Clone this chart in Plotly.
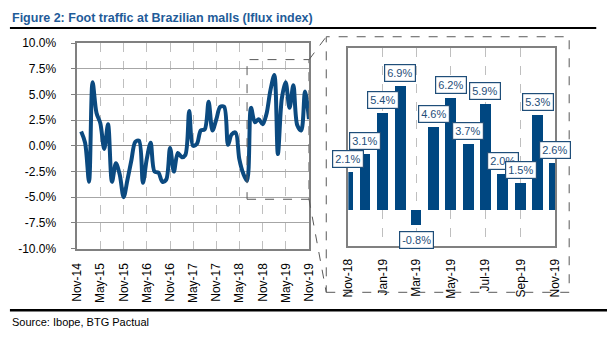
import pandas as pd
import plotly.graph_objects as go

# ---------------- data ----------------
months = pd.date_range("2014-12-01", "2019-11-01", freq="MS")
traffic = [
    1.4, 0.3, -3.5, 6.2, 3.2, 2.2, -0.3, 2.1, -3.5, -1.7, -2.8,      # Dec-14..Oct-15
    -5.0, -3.3, -1.4, 0.4, 0.5, -3.6, -1.3, 0.3, -2.5, -2.6, -3.5, -3.3,  # Nov-15..Oct-16
    -0.2, -2.5, -0.7, -1.1, -0.9, 3.4, 0.0, 0.2, 1.5, 1.6, 4.3, 1.5,     # Nov-16..Oct-17
    2.6, 3.8, 3.8, 0.1, 1.1, 1.3, -1.3, -2.7, -3.4, 3.7, 2.3, 2.6,       # Nov-17..Oct-18
    2.1, 3.1, 5.4, 6.9, -0.8, 4.6, 6.2, 3.7, 5.9, 2.0, 1.5, 5.3, 2.6,    # Nov-18..Nov-19
]
zoom_n = 13
zoom_months = months[-zoom_n:]
zoom_vals = traffic[-zoom_n:]

title_text = "Figure 2: Foot traffic at Brazilian malls (Iflux index)"
source_text = "Source: Ibope, BTG Pactual"
left_yticks = [10, 7.5, 5, 2.5, 0, -2.5, -5, -7.5, -10]

# ---------------- styles ----------------
W, H = 614, 347
BLUE = "#0B4A80"
BAR = "#004781"
LBL = "#1F4E79"
TITLE = "#1F5C99"
GRID = "#BFBFBF"
FRAME = "#808080"
FONT = "Liberation Sans, Arial, sans-serif"
NARROW = "Liberation Sans Narrow, Arial Narrow, Liberation Sans, Arial, sans-serif"

def px(x):
    return x / W

def py(y):
    return 1 - y / H

fig = go.Figure()

fig.add_trace(go.Scatter(
    x=months, y=traffic, mode="lines",
    line=dict(color=BLUE, width=4, shape="spline", smoothing=0.9),
    xaxis="x", yaxis="y", showlegend=False, hoverinfo="skip",
))

fig.add_trace(go.Bar(
    x=zoom_months, y=zoom_vals, marker=dict(color=BAR, line=dict(width=0)),
    width=19 * 24 * 3600 * 1000,
    xaxis="x2", yaxis="y2", showlegend=False, hoverinfo="skip",
))

common_tick = dict(family=FONT, size=12, color="#000000")

fig.update_layout(
    width=W, height=H,
    margin=dict(l=0, r=0, t=0, b=0),
    paper_bgcolor="white", plot_bgcolor="white",
    font=dict(family=FONT, size=12, color="#000"),
    xaxis=dict(
        domain=[px(72), px(309)], type="date",
        range=["2014-11-01", "2019-11-01"],
        tick0="2014-11-01", dtick="M6", tickformat="%b-%y",
        tickangle=-90, tickfont=common_tick, ticklabelstandoff=8,
        showgrid=True, gridcolor=GRID, griddash="dash", gridwidth=1,
        showline=True, linecolor=FRAME, linewidth=1.5, mirror=True,
        ticks="", zeroline=False, anchor="y",
    ),
    yaxis=dict(
        domain=[py(251.7), py(37.7)], range=[-10, 10],
        tickvals=left_yticks, ticktext=[f"{v:.1f}%" for v in left_yticks],
        tickfont=common_tick, ticklabelstandoff=12,
        showgrid=True, gridcolor="#A6A6A6", gridwidth=1,
        showline=True, linecolor=FRAME, linewidth=1.5, mirror=True,
        ticks="outside", ticklen=5, tickcolor=FRAME,
        zeroline=True, zerolinecolor="#8C8C8C", zerolinewidth=1,
        anchor="x",
    ),
    xaxis2=dict(
        domain=[px(349.3), px(561)], type="date",
        range=["2018-11-01", "2019-11-01"],
        tick0="2018-11-01", dtick="M2", tickformat="%b-%y",
        tickangle=-90, tickfont=common_tick, ticklabelstandoff=6,
        showgrid=True, gridcolor=GRID, griddash="dash", gridwidth=1,
        showline=True, linecolor=FRAME, linewidth=1.5, mirror=True,
        ticks="", zeroline=False, anchor="y2",
    ),
    yaxis2=dict(
        domain=[py(249.3), py(42.7)], range=[-2, 9],
        showticklabels=False, showgrid=False, ticks="",
        showline=True, linecolor=FRAME, linewidth=1.5, mirror=True,
        zeroline=False, anchor="x2",
    ),
    bargap=0,
)

# value labels on the zoom bars
for d, v in zip(zoom_months, zoom_vals):
    fig.add_annotation(
        x=d, y=v, xref="x2", yref="y2", text=f"{v:.1f}%",
        showarrow=False, yshift=13 if v >= 0 else -15,
        font=dict(family=FONT, size=11, color=LBL),
        bgcolor="white", bordercolor=LBL, borderwidth=1.2, borderpad=2,
    )

# zoom window on the left chart
zoom_start = "2018-07-01"
fig.add_shape(type="rect", xref="x", yref="y",
              x0=zoom_start, x1=months[-1], y0=-5.2, y1=8.4,
              line=dict(color="#595959", width=1, dash="dash"))

# big dashed box around the right chart
fig.add_shape(type="rect", xref="paper", yref="paper",
              x0=px(326.7), x1=px(575.3), y0=py(297.3), y1=py(31),
              line=dict(color="#595959", width=1, dash="dash"))
# connector lines
fig.add_shape(type="line", xref="paper", yref="paper",
              x0=px(309), y0=py(55), x1=px(326.7), y1=py(31),
              line=dict(color="#595959", width=1, dash="dash"))
fig.add_shape(type="line", xref="paper", yref="paper",
              x0=px(309), y0=py(200), x1=px(326.7), y1=py(297.3),
              line=dict(color="#595959", width=1, dash="dash"))

# title and rules
fig.add_annotation(x=px(3), y=py(11), xref="paper", yref="paper",
                   xanchor="left", yanchor="middle", showarrow=False,
                   text=f"<b>{title_text}</b>",
                   font=dict(family=NARROW, size=12.5, color=TITLE))
fig.add_shape(type="line", xref="paper", yref="paper",
              x0=px(3), x1=px(603), y0=py(22), y1=py(22),
              line=dict(color="#000", width=2))
fig.add_shape(type="line", xref="paper", yref="paper",
              x0=px(3), x1=px(614), y0=py(316), y1=py(316),
              line=dict(color="#000", width=2.5))
fig.add_annotation(x=px(3), y=py(328), xref="paper", yref="paper",
                   xanchor="left", yanchor="middle", showarrow=False,
                   text=source_text,
                   font=dict(family=NARROW, size=11, color="#000"))

fig.write_html("out.html")
